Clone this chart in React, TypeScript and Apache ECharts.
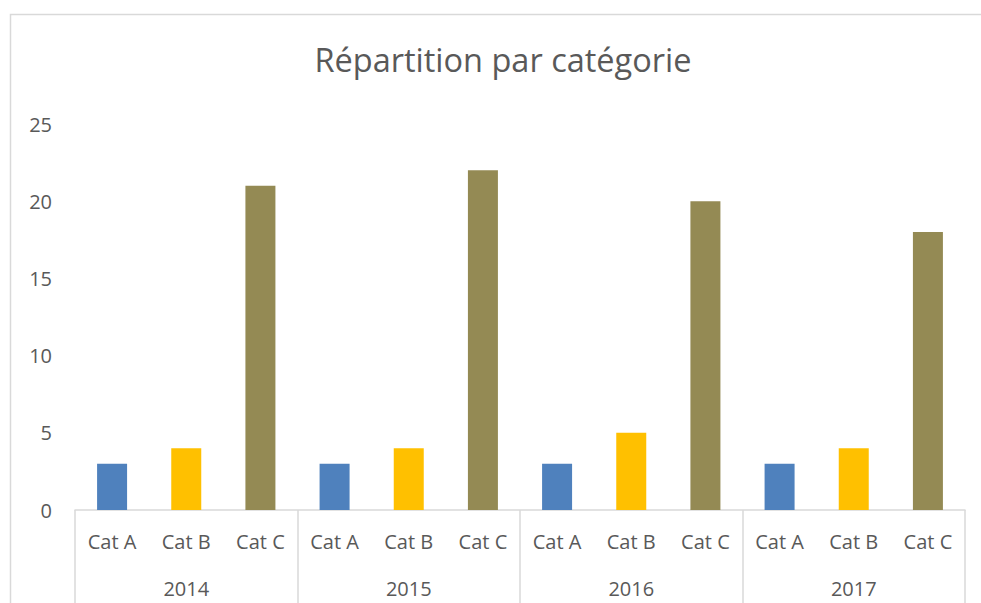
import React, { useEffect, useRef } from "react";
import * as echarts from "echarts";

const title = "Répartition par catégorie";
const years = ["2014", "2015", "2016", "2017"];
const cats = ["Cat A", "Cat B", "Cat C"];
const catA = [3, 3, 3, 3];
const catB = [4, 4, 5, 4];
const catC = [21, 22, 20, 18];
const yTicks = { min: 0, max: 25, interval: 5 };

const colors = ["#4f81bd", "#ffc000", "#948a54"];
const FONT = "'Open Sans', sans-serif";

export default function App() {
  const ref = useRef<HTMLDivElement>(null);
  useEffect(() => {
    if (!ref.current) return;
    const chart = echarts.init(ref.current, undefined, { renderer: "svg" });
    const series = [catA, catB, catC];
    const labels: string[] = [];
    const data: any[] = [];
    years.forEach((y, yi) => {
      cats.forEach((c, ci) => {
        labels.push(c);
        data.push({ value: series[ci][yi], itemStyle: { color: colors[ci] } });
      });
    });
    chart.setOption({
      animation: false,
      textStyle: { fontFamily: FONT },
      title: {
        text: title,
        left: 498,
        textAlign: "center",
        top: 38,
        textStyle: { fontFamily: FONT, fontSize: 32.5, fontWeight: "normal", color: "#595959" },
      },
      graphic: [
        {
          type: "rect",
          shape: { x: 10.5, y: 14.5, width: 1000, height: 700 },
          style: { fill: "none", stroke: "#d9d9d9", lineWidth: 1.5 },
          silent: true,
        },
      ],
      grid: { left: 75, right: 16, top: 124, bottom: 93, containLabel: false },
      xAxis: [
        {
          type: "category",
          data: labels,
          axisTick: { show: false },
          axisLine: { lineStyle: { color: "#d9d9d9", width: 1.5 } },
          axisLabel: { color: "#595959", fontSize: 20, margin: 21, interval: 0, fontFamily: FONT },
        },
        {
          type: "category",
          data: years,
          position: "bottom",
          axisLine: { show: false },
          axisTick: { show: true, interval: 0, length: 95, lineStyle: { color: "#d9d9d9", width: 1.5 } },
          axisLabel: { color: "#595959", fontSize: 20, margin: 68, interval: 0, fontFamily: FONT },
        },
      ],
      yAxis: {
        type: "value",
        min: yTicks.min,
        max: yTicks.max,
        interval: yTicks.interval,
        splitLine: { show: false },
        axisLine: { show: false },
        axisTick: { show: false },
        axisLabel: { color: "#595959", fontSize: 20, margin: 23, fontFamily: FONT },
      },
      series: [
        {
          type: "bar",
          data,
          barWidth: 30,
          xAxisIndex: 0,
        },
      ],
    });
    return () => chart.dispose();
  }, []);
  return (
    <div
      ref={ref}
      style={{ position: "fixed", left: 0, top: 0, width: 981, height: 603, background: "#fff" }}
    />
  );
}
